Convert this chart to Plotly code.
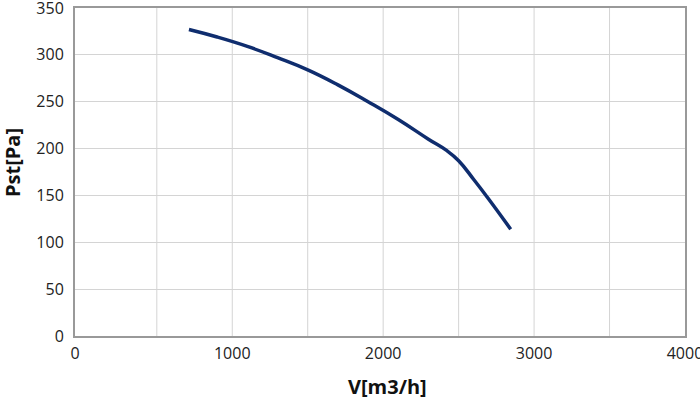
import plotly.graph_objects as go

flow = [713, 900, 1100, 1300, 1500, 1700, 1900, 2100, 2300, 2420, 2500, 2600, 2700, 2845]
pressure = [327, 319, 309, 297, 284, 268, 250, 231, 210, 198, 187, 167, 146, 114]

x_ticks = [-42, 1000, 2000, 3000, 4000]
x_tick_text = ["0", "1000", "2000", "3000", "4000"]
y_ticks = [0, 50, 100, 150, 200, 250, 300, 350]

font = "Open Sans"
W, H = 700, 399
ML, MR, MT, MB = 75, 15, 8, 63

fig = go.Figure()
fig.add_trace(go.Scatter(
    x=flow, y=pressure, mode="lines",
    line=dict(color="#0f2d6e", width=3.5, shape="spline", smoothing=1.3),
    hoverinfo="skip",
))

plot_w = W - ML - MR
plot_h = H - MT - MB

fig.update_layout(
    width=W, height=H,
    margin=dict(l=ML, r=MR, t=MT, b=MB, autoexpand=False),
    paper_bgcolor="white", plot_bgcolor="white",
    showlegend=False,
    font=dict(family=font, size=16, color="#222"),
    xaxis=dict(
        range=[-42, 4000], tickvals=x_ticks, ticktext=x_tick_text,
        showgrid=False, zeroline=False, automargin=False,
        showline=True, linecolor="#999", linewidth=2, mirror=True,
        ticks="outside", ticklen=2, tickcolor="rgba(0,0,0,0)",
        ticklabeloverflow="allow",
        tickfont=dict(size=16, family=font),
    ),
    yaxis=dict(
        range=[0, 350], tickvals=y_ticks,
        showgrid=True, gridcolor="#d4d4d4", gridwidth=1, zeroline=False,
        automargin=False,
        showline=True, linecolor="#999", linewidth=2, mirror=True,
        ticks="outside", ticklen=6, tickcolor="rgba(0,0,0,0)",
        ticklabeloverflow="allow",
        tickfont=dict(size=16, family=font),
    ),
    annotations=[
        dict(text="<b>V[m3/h]</b>", xref="paper", yref="paper",
             x=(387 - ML) / plot_w, y=(H - MB - 386) / plot_h,
             xanchor="center", yanchor="middle",
             showarrow=False, font=dict(size=20, family=font, color="#111")),
        dict(text="<b>Pst[Pa]</b>", xref="paper", yref="paper",
             x=(12 - ML) / plot_w, y=(H - MB - 162) / plot_h, textangle=-90,
             xanchor="center", yanchor="middle",
             showarrow=False, font=dict(size=20, family=font, color="#111")),
    ],
)

# vertical gridlines every 500 tied to the x-axis data
for gx in range(500, 4000, 500):
    fig.add_shape(type="line", xref="x", yref="paper", x0=gx, x1=gx, y0=0, y1=1,
                  line=dict(color="#d4d4d4", width=1), layer="below")

fig.write_html(
    "out.html",
    config={"displayModeBar": False, "staticPlot": True},
    post_script="document.body.style.margin='0';document.body.style.overflow='hidden';",
)
